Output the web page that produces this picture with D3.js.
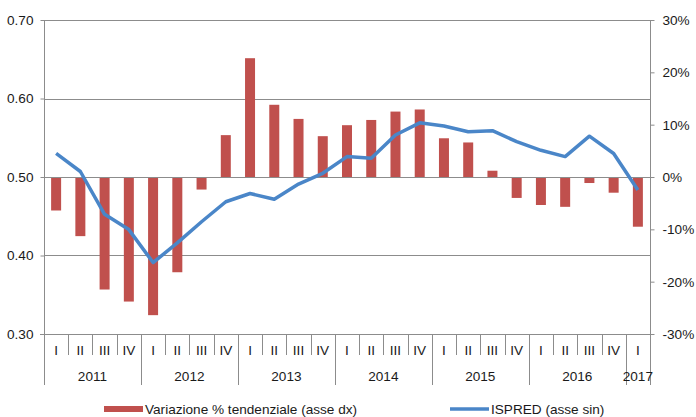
<!DOCTYPE html>
<html><head><meta charset="utf-8">
<script src="https://cdn.jsdelivr.net/npm/d3@7"></script>
<style>
body{margin:0;background:#fff;}
svg{display:block;font-family:"Liberation Sans",Arial,sans-serif;}
</style></head>
<body><svg id="c" width="696" height="417"></svg>
<script>
const quarters = ["I","II","III","IV","I","II","III","IV","I","II","III","IV","I","II","III","IV","I","II","III","IV","I","II","III","IV","I"];
const years = ["2011","2011","2011","2011","2012","2012","2012","2012","2013","2013","2013","2013","2014","2014","2014","2014","2015","2015","2015","2015","2016","2016","2016","2016","2017"];
const variazione = [-6.4,-11.3,-21.5,-23.8,-26.4,-18.2,-2.4,8.0,22.7,13.8,11.1,7.8,9.9,10.9,12.5,12.9,7.4,6.6,1.2,-4.0,-5.35,-5.7,-1.15,-3.0,-9.5];
const ispred = [0.530,0.507,0.4525,0.433,0.391,0.416,0.443,0.4685,0.479,0.4716,0.491,0.5047,0.526,0.5238,0.5535,0.569,0.565,0.5577,0.559,0.545,0.534,0.526,0.552,0.530,0.4834];
const leftTicks = [0.30,0.40,0.50,0.60,0.70];
const rightTicks = [-30,-20,-10,0,10,20,30];

const svg = d3.select("#c");
const L=44, R=650, T=20, B=334;
const FS = "13.6px";
const idx = d3.range(quarters.length);
const x = d3.scaleBand().domain(idx).range([L,R]).paddingInner(0).paddingOuter(0);
const yL = d3.scaleLinear().domain([0.30,0.70]).range([B,T]);
const yR = d3.scaleLinear().domain([-30,30]).range([B,T]);
const grey = "#8c8c8c", txt = "#1a1a1a";

// gridlines
svg.append("g").selectAll("line").data(leftTicks.slice(1)).join("line")
  .attr("x1",L).attr("x2",R).attr("y1",d=>Math.round(yL(d))+0.5).attr("y2",d=>Math.round(yL(d))+0.5)
  .attr("stroke",grey).attr("stroke-width",1);

// bars
const bw = 10;
svg.append("g").selectAll("rect").data(variazione).join("rect")
  .attr("x",(d,i)=>x(i)+x.bandwidth()/2-bw/2)
  .attr("width",bw)
  .attr("y",d=>Math.min(yR(d),yR(0)))
  .attr("height",d=>Math.abs(yR(d)-yR(0)))
  .attr("fill","#c0504d");

// zero line redraw over bars
svg.append("line").attr("x1",L).attr("x2",R).attr("y1",Math.round(yL(0.5))+0.5).attr("y2",Math.round(yL(0.5))+0.5)
  .attr("stroke",grey).attr("stroke-width",1);

// line
svg.append("path").datum(ispred)
  .attr("d",d3.line().x((d,i)=>x(i)+x.bandwidth()/2).y(d=>yL(d)))
  .attr("fill","none").attr("stroke","#4a86c8").attr("stroke-width",3.5).attr("stroke-linejoin","round");

// left axis
const axL = svg.append("g").attr("transform",`translate(${L+0.5},0)`)
  .call(d3.axisLeft(yL).tickValues(leftTicks).tickFormat(d3.format(".2f")).tickSize(4).tickPadding(7));
axL.select(".domain").remove();
axL.selectAll("line").attr("stroke",grey);
axL.selectAll("text").attr("fill",txt).style("font-size",FS).style("font-family","Liberation Sans, Arial, sans-serif");
svg.append("line").attr("x1",L+0.5).attr("x2",L+0.5).attr("y1",T).attr("y2",385).attr("stroke",grey);

// right axis
const axR = svg.append("g").attr("transform",`translate(${R+0.5},0)`)
  .call(d3.axisRight(yR).tickValues(rightTicks).tickFormat(d=>d+"%").tickSize(4).tickPadding(8));
axR.select(".domain").remove();
axR.selectAll("line").attr("stroke",grey);
axR.selectAll("text").attr("fill",txt).style("font-size",FS).style("font-family","Liberation Sans, Arial, sans-serif");
svg.append("line").attr("x1",R+0.5).attr("x2",R+0.5).attr("y1",T).attr("y2",385).attr("stroke",grey);

// top border
svg.append("line").attr("x1",L).attr("x2",R).attr("y1",T+0.5).attr("y2",T+0.5).attr("stroke",grey);

// bottom axis
svg.append("line").attr("x1",L-4).attr("x2",R).attr("y1",B+0.5).attr("y2",B+0.5).attr("stroke",grey);
const gx = svg.append("g");
gx.selectAll("line.q").data(idx.slice(1)).join("line").attr("class","q")
  .attr("x1",i=>Math.round(x(i))+0.5).attr("x2",i=>Math.round(x(i))+0.5)
  .attr("y1",B).attr("y2",i=>years[i]!==years[i-1]?385:355)
  .attr("stroke",grey);
gx.selectAll("text.q").data(idx).join("text").attr("class","q")
  .attr("x",i=>x(i)+x.bandwidth()/2).attr("y",355)
  .attr("text-anchor","middle").attr("fill",txt).style("font-size",FS)
  .text(i=>quarters[i]);
const yearNames = Array.from(new Set(years));
gx.selectAll("text.y").data(yearNames).join("text").attr("class","y")
  .attr("x",yy=>{const ii=idx.filter(i=>years[i]===yy);return (x(ii[0])+x(ii[ii.length-1])+x.bandwidth())/2;})
  .attr("y",381).attr("text-anchor","middle").attr("fill",txt).style("font-size",FS)
  .text(d=>d);

// legend
const lg = svg.append("g");
lg.append("rect").attr("x",104).attr("y",406).attr("width",39).attr("height",6).attr("fill","#c0504d");
lg.append("text").attr("x",145).attr("y",414).attr("fill",txt).style("font-size",FS).text("Variazione % tendenziale (asse dx)");
lg.append("line").attr("x1",450).attr("x2",489).attr("y1",409).attr("y2",409).attr("stroke","#4a86c8").attr("stroke-width",3.5);
lg.append("text").attr("x",491).attr("y",414).attr("fill",txt).style("font-size",FS).text("ISPRED (asse sin)");
</script></body></html>
